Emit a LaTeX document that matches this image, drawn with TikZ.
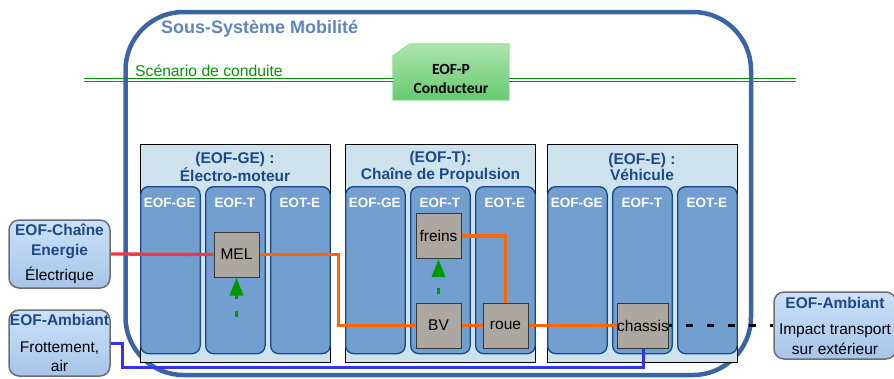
\documentclass[tikz,border=0pt]{standalone}
\usepackage{fontspec}
\setmainfont{Liberation Sans}
\newfontfamily\carlito{Carlito}
\usetikzlibrary{arrows.meta, positioning, calc}
\definecolor{frameblue}{RGB}{58, 101, 162}
\definecolor{titleblue}{RGB}{95, 133, 192}
\definecolor{grptxt}{RGB}{28, 74, 135}
\definecolor{grpfill}{RGB}{206, 226, 238}
\definecolor{colfill}{RGB}{114, 159, 207}
\definecolor{colline}{RGB}{22, 72, 138}
\definecolor{blkfill}{RGB}{173, 167, 161}
\definecolor{blkline}{RGB}{55, 55, 55}
\definecolor{exttop}{RGB}{204, 225, 248}
\definecolor{extbot}{RGB}{166, 196, 233}
\definecolor{extline}{RGB}{110, 110, 110}
\definecolor{scengreen}{RGB}{0, 153, 0}
\definecolor{ptop}{RGB}{172, 229, 172}
\definecolor{pbot}{RGB}{102, 202, 112}
\definecolor{pline}{RGB}{150, 220, 150}
\definecolor{flowor}{RGB}{255, 102, 0}
\definecolor{flowred}{RGB}{238, 58, 72}
\definecolor{flowblue}{RGB}{52, 52, 238}
\newcommand{\setfs}[1]{\fontsize{#1}{#1}\selectfont}
\newcommand{\exthead}[1]{\textcolor{grptxt}{\bfseries #1}}
\tikzstyle{frame}     = [rectangle, rounded corners=58pt, draw=frameblue, line width=4.5pt,
                         minimum width=625.5pt, minimum height=363pt, inner sep=0pt]
\tikzstyle{driver}    = [rectangle, minimum width=116pt, minimum height=56pt, inner sep=0pt]
\tikzstyle{drivershape} = [top color=ptop, bottom color=pbot, draw=pline, line width=1pt]
\tikzstyle{drivertxt} = [align=center, inner sep=0pt, font=\carlito\bfseries\fontsize{15.5}{18.5}\selectfont]
\tikzstyle{scenline}  = [draw=scengreen, line width=1.3pt, double=white, double distance=1.7pt]
\tikzstyle{groupbox}  = [rectangle, draw=black, line width=0.6pt, fill=grpfill,
                         minimum width=190pt, minimum height=218pt, inner sep=0pt]
\tikzstyle{grouptitle}= [align=center, inner sep=0pt, text=grptxt,
                         font=\bfseries\fontsize{15.5}{16.5}\selectfont]
\tikzstyle{column}    = [rectangle, rounded corners=8pt, draw=colline, line width=1.3pt,
                         fill=colfill, minimum width=59.5pt, minimum height=167pt, inner sep=0pt]
\tikzstyle{collabel}  = [inner sep=0pt, text=white, font=\setfs{13.5}\bfseries]
\tikzstyle{block}     = [rectangle, draw=blkline, line width=1pt, fill=blkfill,
                         minimum width=45pt, minimum height=45pt, inner sep=0pt, font=\setfs{15.5}]
\tikzstyle{external}  = [rectangle, rounded corners=10pt, draw=extline, line width=1.5pt,
                         top color=exttop, bottom color=extbot, align=center, inner sep=0pt,
                         font=\fontsize{15.5}{19.5}\selectfont]
\tikzstyle{flow}      = [draw=flowor, line width=3.5pt]
\tikzstyle{ctrl}      = [draw=scengreen, line width=3.5pt, dash pattern=on 6.5pt off 12pt,
                         -{Triangle[length=18pt, width=13pt]}]

\begin{document}
\begin{tikzpicture}[x=1pt, y=-1pt]
  \useasboundingbox (0,0) rectangle (894,378);

  % Scenario line and driver
  \node (cond) [driver] at (451,72) {};
  \path [drivershape] ($(cond.north west)+(0,12)$) -- ($(cond.north west)+(17,0)$)
        -- (cond.north east) -- (cond.south east) -- (cond.south west) -- cycle;
  \node (condtxt) [drivertxt] at (451,79) {EOF-P\\Conducteur};
  \coordinate (scenL) at (84,80);
  \coordinate (scenR) at (796,80);
  \draw [scenline] (scenL) -- (scenL -| cond.west);
  \draw [scenline] (scenR -| cond.east) -- (scenR);

  % Sub-system frame
  \node (mobilite) [frame] at (438.25,193.5) {};
  \node (mobtitle) [anchor=base west, inner sep=0pt, text=titleblue, font=\setfs{18}\bfseries]
        at (161,33) {Sous-Système Mobilité};
  \node (scentxt)  [anchor=base west, inner sep=0pt, text=scengreen, font=\setfs{15.7}]
        at (135,76) {Scénario de conduite};

  % Three groups with their columns
  \foreach \g/\gx in {1/140, 2/345, 3/547} {
    \node (grp\g) [groupbox, anchor=north west] at (\gx,144) {};
    \foreach \lab [count=\c] in {EOF-GE, EOF-T, EOT-E} {
      \node (col\g\c) [column, anchor=north west] at ({\gx+65*(\c-1)},186) {};
      \node (lab\g\c) [collabel, anchor=base] at ({\gx+65*(\c-1)+29.75},207) {\lab};
    }
  }
  \node (gt1) [grouptitle] at (235,167)   {(EOF-GE) :\\Électro-moteur};
  \node (gt2) [grouptitle] at (440.5,167) {(EOF-T):\\Chaîne de Propulsion};
  \node (gt3) [grouptitle] at (642,167)   {(EOF-E) :\\Véhicule};

  % Blocks
  \node (MEL)     [block] at (236.5,254.5) {MEL};
  \node (freins)  [block] at (438.5,236)   {freins};
  \node (BV)      [block] at (438.5,325.5) {BV};
  \node (roue)    [block] at (505.5,325.5) {roue};
  \node (chassis) [block] at (643,325.5)   {chassis};

  % External flows
  \node (energie) [external, minimum width=101pt, minimum height=68pt] at (59.5,254)
        {\exthead{EOF-Chaîne}\\\exthead{Energie}\\[6pt]Électrique};
  \node (ambL)    [external, minimum width=101pt, minimum height=66pt] at (59.5,343)
        {\exthead{EOF-Ambiant}\\[7pt]Frottement,\\air};
  \node (ambR)    [external, minimum width=122pt, minimum height=67pt] at (835,325.5)
        {\exthead{EOF-Ambiant}\\[7pt]Impact transport\\sur extérieur};

  % Connectors
  \draw [flowred, line width=3.3pt] (energie.east) -- (MEL.west);
  \draw [flow] (MEL.east) -- ++(79,0) |- (BV.west);
  \draw [flow] (BV) -- (roue);
  \draw [flow] (freins.east) -| (roue.north);
  \draw [flow] (roue) -- (chassis);
  \draw [flowblue, line width=3pt] (ambL.east) -- ++(12,0) -- ++(0,24) -| (chassis.south);
  \draw [black, line width=3.5pt, dash pattern=on 7pt off 14pt, dash phase=4pt]
        (chassis.east) -- (ambR.west);

  \coordinate (melctl) at (236.5,317);
  \coordinate (frctl)  at (438.5,294);
  \draw [ctrl] (melctl) -- (MEL.south);
  \draw [ctrl] (frctl) -- (freins.south);
\end{tikzpicture}
\end{document}
